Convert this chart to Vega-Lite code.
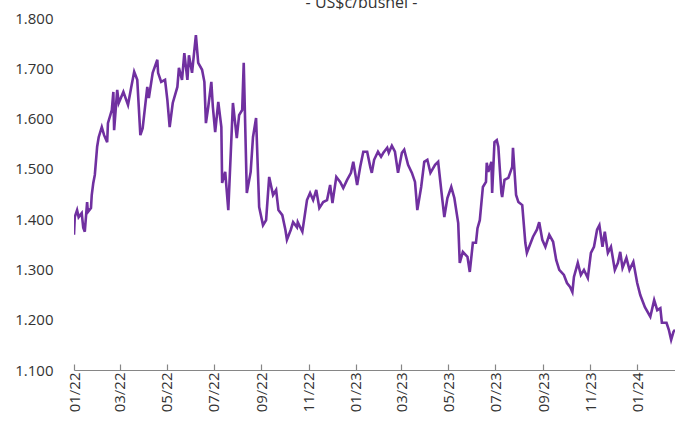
{
  "$schema": "https://vega.github.io/schema/vega-lite/v6.json",
  "autosize": {"type": "none"},
  "padding": {"left": 74, "top": 18, "right": 0, "bottom": 60},
  "width": 601,
  "height": 352,
  "background": "white",
  "title": {"text": "- US$c/bushel -", "fontSize": 16, "font": "Open Sans", "fontWeight": "normal", "color": "#333333", "anchor": "middle", "dx": -13, "baseline": "alphabetic", "offset": -13},
  "config": {"view": {"stroke": null}},
  "data": {"values": [
    {"d": "2022-01-01", "v": 1.369}, {"d": "2022-01-02", "v": 1.404}, {"d": "2022-01-05", "v": 1.418}, {"d": "2022-01-07", "v": 1.404},
    {"d": "2022-01-11", "v": 1.412}, {"d": "2022-01-13", "v": 1.383}, {"d": "2022-01-15", "v": 1.375}, {"d": "2022-01-18", "v": 1.434},
    {"d": "2022-01-19", "v": 1.414}, {"d": "2022-01-23", "v": 1.422}, {"d": "2022-01-24", "v": 1.448}, {"d": "2022-01-26", "v": 1.472},
    {"d": "2022-01-28", "v": 1.488}, {"d": "2022-01-31", "v": 1.544}, {"d": "2022-02-02", "v": 1.563}, {"d": "2022-02-06", "v": 1.583},
    {"d": "2022-02-09", "v": 1.567}, {"d": "2022-02-13", "v": 1.553}, {"d": "2022-02-14", "v": 1.591}, {"d": "2022-02-19", "v": 1.617},
    {"d": "2022-02-21", "v": 1.653}, {"d": "2022-02-22", "v": 1.577}, {"d": "2022-02-26", "v": 1.657}, {"d": "2022-02-28", "v": 1.631},
    {"d": "2022-03-06", "v": 1.653}, {"d": "2022-03-12", "v": 1.627}, {"d": "2022-03-16", "v": 1.661}, {"d": "2022-03-20", "v": 1.693},
    {"d": "2022-03-24", "v": 1.677}, {"d": "2022-03-28", "v": 1.567}, {"d": "2022-03-31", "v": 1.581}, {"d": "2022-04-06", "v": 1.663},
    {"d": "2022-04-08", "v": 1.641}, {"d": "2022-04-13", "v": 1.691}, {"d": "2022-04-19", "v": 1.717}, {"d": "2022-04-20", "v": 1.691},
    {"d": "2022-04-24", "v": 1.673}, {"d": "2022-04-29", "v": 1.677}, {"d": "2022-05-02", "v": 1.637}, {"d": "2022-05-05", "v": 1.583},
    {"d": "2022-05-09", "v": 1.631}, {"d": "2022-05-15", "v": 1.663}, {"d": "2022-05-17", "v": 1.701}, {"d": "2022-05-21", "v": 1.677},
    {"d": "2022-05-24", "v": 1.730}, {"d": "2022-05-28", "v": 1.677}, {"d": "2022-05-30", "v": 1.726}, {"d": "2022-06-03", "v": 1.691},
    {"d": "2022-06-08", "v": 1.766}, {"d": "2022-06-11", "v": 1.711}, {"d": "2022-06-16", "v": 1.697}, {"d": "2022-06-19", "v": 1.673},
    {"d": "2022-06-21", "v": 1.591}, {"d": "2022-06-24", "v": 1.623}, {"d": "2022-06-28", "v": 1.673}, {"d": "2022-06-30", "v": 1.623},
    {"d": "2022-07-03", "v": 1.573}, {"d": "2022-07-07", "v": 1.633}, {"d": "2022-07-11", "v": 1.583}, {"d": "2022-07-12", "v": 1.472},
    {"d": "2022-07-16", "v": 1.494}, {"d": "2022-07-20", "v": 1.418}, {"d": "2022-07-26", "v": 1.631}, {"d": "2022-07-31", "v": 1.561},
    {"d": "2022-08-03", "v": 1.607}, {"d": "2022-08-07", "v": 1.617}, {"d": "2022-08-09", "v": 1.711}, {"d": "2022-08-13", "v": 1.452},
    {"d": "2022-08-18", "v": 1.494}, {"d": "2022-08-21", "v": 1.563}, {"d": "2022-08-25", "v": 1.601}, {"d": "2022-08-29", "v": 1.424},
    {"d": "2022-09-03", "v": 1.388}, {"d": "2022-09-07", "v": 1.398}, {"d": "2022-09-11", "v": 1.484}, {"d": "2022-09-16", "v": 1.448},
    {"d": "2022-09-20", "v": 1.458}, {"d": "2022-09-23", "v": 1.418}, {"d": "2022-09-28", "v": 1.408}, {"d": "2022-10-02", "v": 1.379},
    {"d": "2022-10-04", "v": 1.359}, {"d": "2022-10-09", "v": 1.379}, {"d": "2022-10-12", "v": 1.394}, {"d": "2022-10-17", "v": 1.384},
    {"d": "2022-10-18", "v": 1.394}, {"d": "2022-10-24", "v": 1.375}, {"d": "2022-10-30", "v": 1.438}, {"d": "2022-11-03", "v": 1.452},
    {"d": "2022-11-07", "v": 1.438}, {"d": "2022-11-11", "v": 1.458}, {"d": "2022-11-15", "v": 1.422}, {"d": "2022-11-20", "v": 1.434},
    {"d": "2022-11-25", "v": 1.438}, {"d": "2022-11-29", "v": 1.468}, {"d": "2022-12-02", "v": 1.432}, {"d": "2022-12-07", "v": 1.484},
    {"d": "2022-12-12", "v": 1.474}, {"d": "2022-12-16", "v": 1.462}, {"d": "2022-12-21", "v": 1.478}, {"d": "2022-12-26", "v": 1.492},
    {"d": "2022-12-29", "v": 1.514}, {"d": "2023-01-03", "v": 1.468}, {"d": "2023-01-07", "v": 1.504}, {"d": "2023-01-11", "v": 1.534},
    {"d": "2023-01-16", "v": 1.534}, {"d": "2023-01-20", "v": 1.504}, {"d": "2023-01-22", "v": 1.492}, {"d": "2023-01-25", "v": 1.518},
    {"d": "2023-01-30", "v": 1.534}, {"d": "2023-02-03", "v": 1.524}, {"d": "2023-02-06", "v": 1.532}, {"d": "2023-02-11", "v": 1.542},
    {"d": "2023-02-13", "v": 1.532}, {"d": "2023-02-17", "v": 1.546}, {"d": "2023-02-21", "v": 1.534}, {"d": "2023-02-25", "v": 1.492},
    {"d": "2023-03-02", "v": 1.532}, {"d": "2023-03-05", "v": 1.538}, {"d": "2023-03-10", "v": 1.508}, {"d": "2023-03-15", "v": 1.492},
    {"d": "2023-03-19", "v": 1.474}, {"d": "2023-03-22", "v": 1.418}, {"d": "2023-03-27", "v": 1.464}, {"d": "2023-03-31", "v": 1.514},
    {"d": "2023-04-04", "v": 1.518}, {"d": "2023-04-08", "v": 1.492}, {"d": "2023-04-14", "v": 1.508}, {"d": "2023-04-18", "v": 1.514},
    {"d": "2023-04-22", "v": 1.458}, {"d": "2023-04-26", "v": 1.404}, {"d": "2023-04-30", "v": 1.442}, {"d": "2023-05-05", "v": 1.464},
    {"d": "2023-05-09", "v": 1.442}, {"d": "2023-05-14", "v": 1.392}, {"d": "2023-05-16", "v": 1.313}, {"d": "2023-05-20", "v": 1.335},
    {"d": "2023-05-26", "v": 1.325}, {"d": "2023-05-29", "v": 1.295}, {"d": "2023-06-02", "v": 1.353}, {"d": "2023-06-06", "v": 1.353},
    {"d": "2023-06-08", "v": 1.382}, {"d": "2023-06-11", "v": 1.398}, {"d": "2023-06-15", "v": 1.464}, {"d": "2023-06-19", "v": 1.474},
    {"d": "2023-06-20", "v": 1.512}, {"d": "2023-06-22", "v": 1.494}, {"d": "2023-06-26", "v": 1.514}, {"d": "2023-06-27", "v": 1.452},
    {"d": "2023-06-30", "v": 1.553}, {"d": "2023-07-03", "v": 1.557}, {"d": "2023-07-05", "v": 1.544}, {"d": "2023-07-09", "v": 1.452},
    {"d": "2023-07-10", "v": 1.444}, {"d": "2023-07-13", "v": 1.478}, {"d": "2023-07-18", "v": 1.482}, {"d": "2023-07-23", "v": 1.504},
    {"d": "2023-07-24", "v": 1.542}, {"d": "2023-07-28", "v": 1.448}, {"d": "2023-07-31", "v": 1.434}, {"d": "2023-08-05", "v": 1.428},
    {"d": "2023-08-09", "v": 1.353}, {"d": "2023-08-11", "v": 1.333}, {"d": "2023-08-15", "v": 1.349}, {"d": "2023-08-19", "v": 1.365},
    {"d": "2023-08-24", "v": 1.379}, {"d": "2023-08-27", "v": 1.394}, {"d": "2023-08-31", "v": 1.359}, {"d": "2023-09-04", "v": 1.345},
    {"d": "2023-09-09", "v": 1.369}, {"d": "2023-09-14", "v": 1.355}, {"d": "2023-09-18", "v": 1.319}, {"d": "2023-09-22", "v": 1.299},
    {"d": "2023-09-28", "v": 1.289}, {"d": "2023-10-02", "v": 1.273}, {"d": "2023-10-06", "v": 1.265}, {"d": "2023-10-09", "v": 1.255},
    {"d": "2023-10-11", "v": 1.285}, {"d": "2023-10-16", "v": 1.313}, {"d": "2023-10-20", "v": 1.289}, {"d": "2023-10-24", "v": 1.299},
    {"d": "2023-10-29", "v": 1.283}, {"d": "2023-11-02", "v": 1.333}, {"d": "2023-11-06", "v": 1.345}, {"d": "2023-11-10", "v": 1.379},
    {"d": "2023-11-13", "v": 1.388}, {"d": "2023-11-17", "v": 1.345}, {"d": "2023-11-20", "v": 1.375}, {"d": "2023-11-24", "v": 1.333},
    {"d": "2023-11-28", "v": 1.345}, {"d": "2023-12-03", "v": 1.299}, {"d": "2023-12-07", "v": 1.313}, {"d": "2023-12-10", "v": 1.335},
    {"d": "2023-12-13", "v": 1.303}, {"d": "2023-12-18", "v": 1.323}, {"d": "2023-12-22", "v": 1.299}, {"d": "2023-12-27", "v": 1.315},
    {"d": "2024-01-01", "v": 1.273}, {"d": "2024-01-05", "v": 1.249}, {"d": "2024-01-11", "v": 1.225}, {"d": "2024-01-18", "v": 1.206},
    {"d": "2024-01-23", "v": 1.239}, {"d": "2024-01-27", "v": 1.219}, {"d": "2024-01-31", "v": 1.223}, {"d": "2024-02-02", "v": 1.194},
    {"d": "2024-02-08", "v": 1.194}, {"d": "2024-02-11", "v": 1.180}, {"d": "2024-02-14", "v": 1.160}, {"d": "2024-02-17", "v": 1.176},
    {"d": "2024-02-19", "v": 1.180}
  ]},
  "mark": {"type": "line", "color": "#7030A0", "strokeWidth": 2.6, "clip": true},
  "encoding": {
    "x": {
      "field": "d", "type": "temporal", "title": null,
      "scale": {"type": "utc", "domain": [{"year": 2022, "month": 1, "date": 1, "utc": true}, {"year": 2024, "month": 2, "date": 19, "utc": true}], "nice": false},
      "axis": {
        "values": [
          {"year": 2022, "month": 1, "date": 1, "utc": true}, {"year": 2022, "month": 3, "date": 1, "utc": true},
          {"year": 2022, "month": 5, "date": 1, "utc": true}, {"year": 2022, "month": 7, "date": 1, "utc": true},
          {"year": 2022, "month": 9, "date": 1, "utc": true}, {"year": 2022, "month": 11, "date": 1, "utc": true},
          {"year": 2023, "month": 1, "date": 1, "utc": true}, {"year": 2023, "month": 3, "date": 1, "utc": true},
          {"year": 2023, "month": 5, "date": 1, "utc": true}, {"year": 2023, "month": 7, "date": 1, "utc": true},
          {"year": 2023, "month": 9, "date": 1, "utc": true}, {"year": 2023, "month": 11, "date": 1, "utc": true},
          {"year": 2024, "month": 1, "date": 1, "utc": true}
        ],
        "format": "%m/%y",
        "labelAngle": -90, "labelAlign": "right", "labelBaseline": "middle",
        "labelFont": "Open Sans", "labelFontSize": 15, "labelColor": "#333333",
        "labelPadding": 8, "labelOverlap": false, "labelFlush": false, "labelBound": false,
        "domainColor": "#868686", "domainWidth": 1.2, "tickColor": "#868686", "tickWidth": 1.2, "tickSize": -6,
        "grid": false
      }
    },
    "y": {
      "field": "v", "type": "quantitative", "title": null,
      "scale": {"domain": [1.1, 1.8], "nice": false, "zero": false},
      "axis": {
        "values": [1.1, 1.2, 1.3, 1.4, 1.5, 1.6, 1.7, 1.8],
        "format": ".3f", "domain": false, "ticks": false, "grid": false,
        "labelFont": "Open Sans", "labelFontSize": 15, "labelColor": "#333333",
        "labelPadding": 21, "labelFlush": false
      }
    }
  }
}
